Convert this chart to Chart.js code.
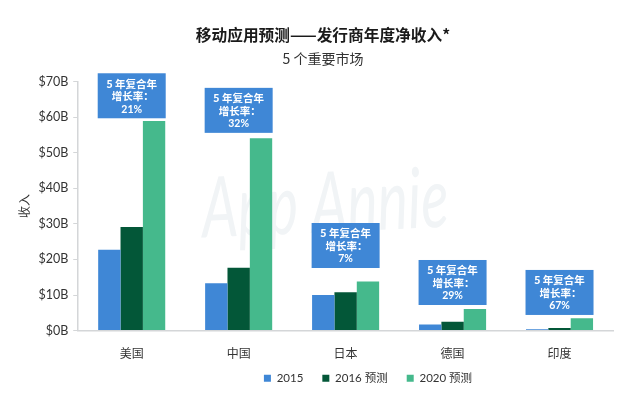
<!DOCTYPE html>
<html>
<head>
<meta charset="utf-8">
<style>
  html, body { margin: 0; padding: 0; background: #fff; }
  #chart { display: block; }
</style>
<script src="https://cdn.jsdelivr.net/npm/chart.js@4"></script>
</head>
<body>
<canvas id="chart" width="640" height="407"></canvas>
<script>
const markets = ["美国", "中国", "日本", "德国", "印度"];
const rev2015 = [22.7, 13.3, 10.0, 1.7, 0.35];
const rev2016 = [29.1, 17.7, 10.8, 2.5, 0.7];
const rev2020 = [58.9, 54.1, 13.8, 6.1, 3.5];
const cagr = ["21%", "32%", "7%", "29%", "67%"];
// value on the y axis where each callout's lower edge sits
const calloutBase = [59.7, 55.6, 17.6, 7.2, 4.4];

const fontStack = 'Lato, "Noto Sans CJK SC", sans-serif';
const cjkStack = '"Noto Sans CJK SC", Lato, sans-serif';
const blue = "#3f87d6";
const darkGreen = "#035738";
const green = "#45b98c";
const axisColor = "#d4d6d8";
const text = "#333333";
const xAxisSqueeze = 15.5; // pulls the legend up under the x labels

// watermark sits under the bars
const watermark = {
  id: "watermark",
  beforeDatasetsDraw(chart) {
    const ctx = chart.ctx;
    ctx.save();
    ctx.translate(325, 205);
    ctx.rotate(-0.045);
    ctx.scale(0.68, 1);
    ctx.fillStyle = "#f1f4f6";
    ctx.font = "italic 400 84px Lato, sans-serif";
    ctx.textAlign = "center";
    ctx.textBaseline = "middle";
    ctx.fillText("App Annie", 0, 0);
    ctx.restore();
  },
};

const callouts = {
  id: "callouts",
  afterDatasetsDraw(chart) {
    const ctx = chart.ctx;
    const x = chart.scales.x;
    const y = chart.scales.y;
    const w = 68, h = 45;
    ctx.save();
    markets.forEach((m, i) => {
      const cx = x.getPixelForValue(i);
      const top = y.getPixelForValue(calloutBase[i]) - h;
      ctx.fillStyle = blue;
      ctx.fillRect(cx - w / 2, top, w, h);
      ctx.fillStyle = "#fff";
      ctx.textAlign = "center";
      ctx.textBaseline = "middle";
      ctx.font = "bold 10.5px " + cjkStack;
      ctx.fillText("5 年复合年", cx, top + 10.5);
      ctx.fillText("增长率：", cx + 1, top + 23);
      ctx.font = "bold 10.5px " + fontStack;
      ctx.fillText(cagr[i], cx, top + 36);
    });
    ctx.restore();
  },
};

// title and legend are not centred on the plot in the original
const nudge = {
  id: "nudge",
  afterLayout(chart) {
    chart.boxes.forEach((b) => {
      const dx = b.position === "top" ? 10 : b === chart.legend ? 55 : 0;
      b.left += dx;
      b.right += dx;
    });
    // labels are clipped to the scale box, so give the height back for drawing
    chart.scales.x.bottom += xAxisSqueeze;
  },
};

new Chart(document.getElementById("chart"), {
  type: "bar",
  data: {
    labels: markets,
    datasets: [
      { label: "2015", data: rev2015, backgroundColor: blue },
      { label: "2016 预测", data: rev2016, backgroundColor: darkGreen },
      { label: "2020 预测", data: rev2020, backgroundColor: green },
    ],
  },
  options: {
    responsive: false,
    animation: false,
    devicePixelRatio: 1,
    layout: { padding: { top: 0, right: 27, bottom: 13, left: 13 } },
    datasets: { bar: { barPercentage: 1, categoryPercentage: 0.627 } },
    plugins: {
      title: {
        display: true,
        text: "移动应用预测——发行商年度净收入*",
        color: "#1a1a1a",
        font: { family: cjkStack, size: 15.7, weight: "bold" },
        padding: { top: 26, bottom: 5 },
      },
      subtitle: {
        display: true,
        text: "5 个重要市场",
        color: text,
        font: { family: cjkStack, size: 14 },
        padding: { bottom: 15 },
      },
      legend: {
        position: "bottom",
        labels: {
          color: text,
          font: { family: fontStack, size: 11.5 },
          usePointStyle: true,
          pointStyle: "rect",
          boxWidth: 7,
          boxHeight: 7,
          padding: 19,
        },
      },
      tooltip: { enabled: false },
    },
    scales: {
      x: {
        grid: { display: false },
        border: { color: axisColor, width: 1.5 },
        ticks: { color: text, font: { family: cjkStack, size: 12 }, padding: 8 },
        afterFit(scale) { scale.height -= xAxisSqueeze; },
      },
      y: {
        min: 0,
        max: 70,
        grid: { drawOnChartArea: false, color: axisColor, tickLength: 5 },
        border: { color: axisColor, width: 1.5 },
        ticks: {
          stepSize: 10,
          color: text,
          font: { family: fontStack, size: 12.5 },
          padding: 5,
          callback: (v) => "$" + v + "B",
        },
        title: {
          display: true,
          text: "收入",
          color: text,
          font: { family: cjkStack, size: 12 },
          padding: { bottom: 2 },
        },
      },
    },
  },
  plugins: [watermark, callouts, nudge],
});
</script>
</body>
</html>
